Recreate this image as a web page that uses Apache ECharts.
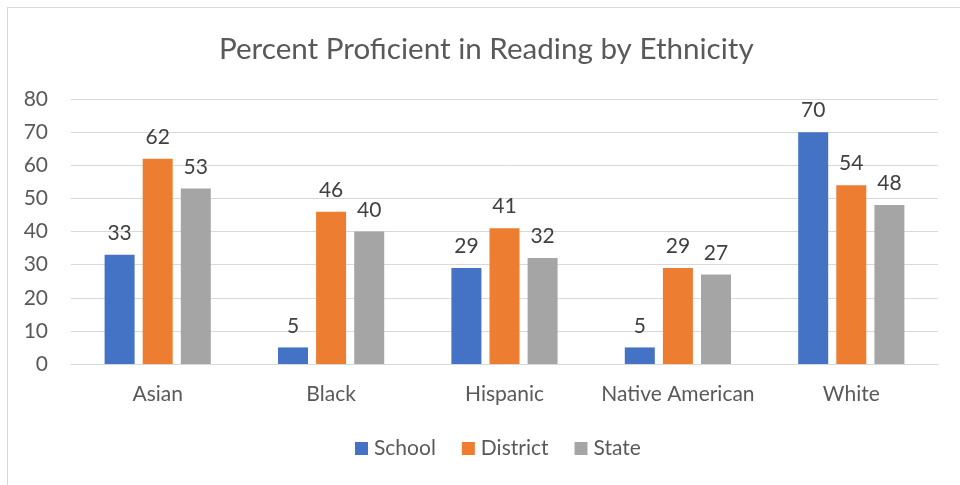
<!DOCTYPE html>
<html><head><meta charset="utf-8">
<script src="https://cdn.jsdelivr.net/npm/echarts@6/dist/echarts.min.js"></script>
<style>
html,body{margin:0;padding:0;background:#fff;}
#frame{position:absolute;left:7px;top:7px;width:1000px;height:600px;border:1px solid #d9d9d9;box-sizing:border-box;}
#c{position:absolute;left:0;top:0;width:960px;height:485px;}
</style></head>
<body>
<div id="frame"></div>
<div id="c"></div>
<script>
const categories = ['Asian', 'Black', 'Hispanic', 'Native American', 'White'];
const school = [33, 5, 29, 5, 70];
const district = [62, 46, 41, 29, 54];
const state = [53, 40, 32, 27, 48];
const seriesNames = ['School', 'District', 'State'];
const colors = ['#4472c4', '#ed7d31', '#a5a5a5'];
const FONT = 'Lato';

const chart = echarts.init(document.getElementById('c'));
const lbl = {show: true, position: 'top', color: '#404040', fontSize: 21, fontFamily: FONT, distance: 11};
chart.setOption({
  animation: false,
  title: {text: 'Percent Proficient in Reading by Ethnicity', left: 214, top: 29,
    textStyle: {fontFamily: FONT, fontSize: 29.6, fontWeight: 'normal', color: '#595959'}},
  grid: {left: 71, right: 22, top: 99, bottom: 121},
  legend: {bottom: 21, left: 350, itemWidth: 13, itemHeight: 13, itemGap: 26, icon: 'rect',
    textStyle: {fontFamily: FONT, fontSize: 21, color: '#595959', padding: [0, 0, 0, 1]},
    data: seriesNames},
  xAxis: {type: 'category', data: categories,
    axisLine: {lineStyle: {color: '#d9d9d9', width: 1}}, axisTick: {show: false},
    axisLabel: {interval: 0, fontFamily: FONT, fontSize: 21, color: '#595959', margin: 20}},
  yAxis: {type: 'value', min: 0, max: 80, interval: 10,
    axisLine: {show: false}, axisTick: {show: false},
    splitLine: {lineStyle: {color: '#d9d9d9', width: 1}},
    axisLabel: {fontFamily: FONT, fontSize: 21, color: '#595959', margin: 23}},
  series: [
    {name: seriesNames[0], type: 'bar', data: school, itemStyle: {color: colors[0]}, barWidth: 30, barGap: '27%', label: lbl},
    {name: seriesNames[1], type: 'bar', data: district, itemStyle: {color: colors[1]}, barWidth: 30, barGap: '27%', label: lbl},
    {name: seriesNames[2], type: 'bar', data: state, itemStyle: {color: colors[2]}, barWidth: 30, barGap: '27%', label: lbl}
  ]
});
</script>
</body></html>
